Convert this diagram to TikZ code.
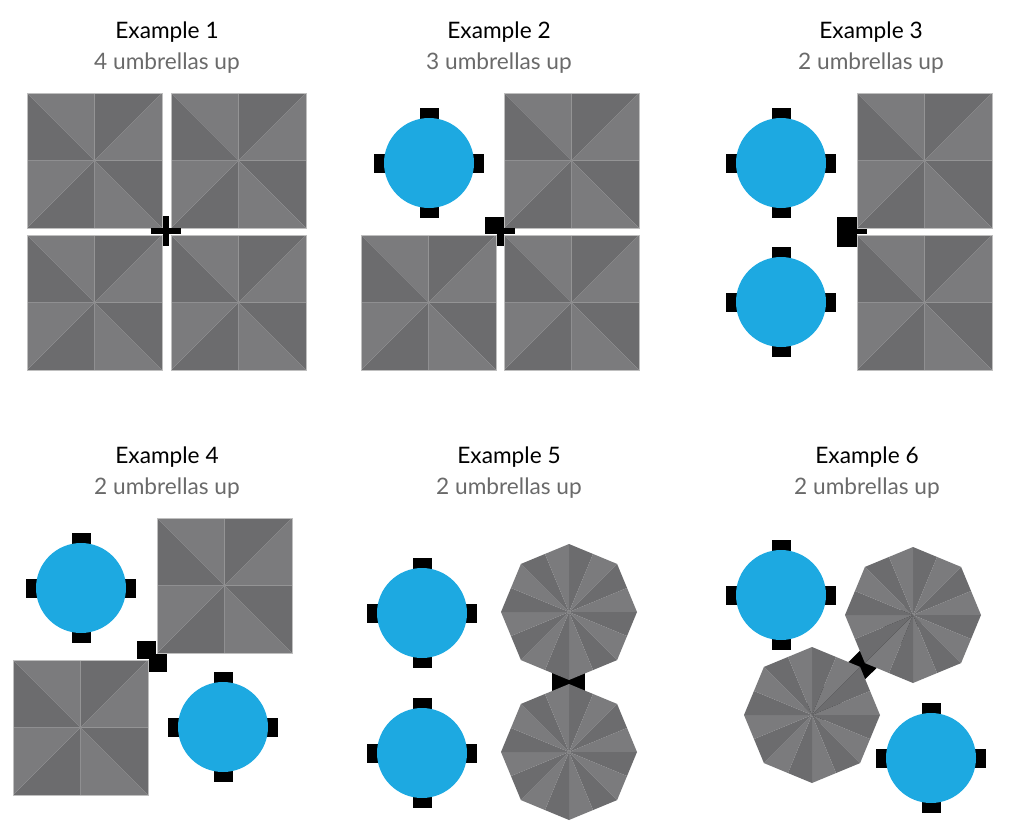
\documentclass[tikz,border=0pt]{standalone}
\usepackage{fontspec}
\setmainfont{Lato}
\definecolor{lg}{HTML}{7B7B7D}
\definecolor{dg}{HTML}{6C6C6E}
\definecolor{ub}{HTML}{1DA9E1}
\definecolor{sub}{HTML}{6A6A6A}
\newcommand{\usq}[2]{%
\begin{scope}[shift={(#1,#2)}]
\fill[lg] (67.5,67.5)--(0,0)--(67.5,0)--cycle;
\fill[dg] (67.5,67.5)--(67.5,0)--(135,0)--cycle;
\fill[lg] (67.5,67.5)--(135,0)--(135,67.5)--cycle;
\fill[dg] (67.5,67.5)--(135,67.5)--(135,135)--cycle;
\fill[lg] (67.5,67.5)--(135,135)--(67.5,135)--cycle;
\fill[dg] (67.5,67.5)--(67.5,135)--(0,135)--cycle;
\fill[lg] (67.5,67.5)--(0,135)--(0,67.5)--cycle;
\fill[dg] (67.5,67.5)--(0,67.5)--(0,0)--cycle;
\draw[gray!50,line width=0.5pt] (0,0) rectangle (135,135);
\end{scope}}
\newcommand{\uoct}[3]{%
\begin{scope}[shift={(#1,#2)}]
\foreach \k in {0,...,7}{
\pgfmathsetmacro\a{-90+45*\k}
\fill[dg] (0,0)--(\a:#3)--(\a+22.5:0.9239*#3)--cycle;
\fill[lg] (0,0)--(\a+22.5:0.9239*#3)--(\a+45:#3)--cycle;
}
\end{scope}}
\newcommand{\utable}[2]{%
\begin{scope}[shift={(#1,#2)}]
\fill[black] (-9.5,-55) rectangle (9.5,-38);
\fill[black] (-9.5,55) rectangle (9.5,38);
\fill[black] (-55,-9.5) rectangle (-38,9.5);
\fill[black] (55,-9.5) rectangle (38,9.5);
\fill[ub] (0,0) circle (45);
\end{scope}}
\tikzset{ttl/.style={font=\fontsize{17}{20}\selectfont,text=black,anchor=base},
 stl/.style={font=\fontsize{17}{20}\selectfont,text=sub,anchor=base}}
\begin{document}
\begin{tikzpicture}[x=0.75pt,y=-0.75pt]
\useasboundingbox (0,0) rectangle (1010,828);
% titles
\node[ttl] (t1) at (167,38) {Example 1};
\node[stl] (s1) at (167,69) {4 umbrellas up};
\node[ttl] (t2) at (499,38) {Example 2};
\node[stl] (s2) at (499,69) {3 umbrellas up};
\node[ttl] (t3) at (871,38) {Example 3};
\node[stl] (s3) at (871,69) {2 umbrellas up};
\node[ttl] (t4) at (167,463) {Example 4};
\node[stl] (s4) at (167,494) {2 umbrellas up};
\node[ttl] (t5) at (509,463) {Example 5};
\node[stl] (s5) at (509,494) {2 umbrellas up};
\node[ttl] (t6) at (867,463) {Example 6};
\node[stl] (s6) at (867,494) {2 umbrellas up};
% example 1
\usq{27}{93}\usq{171}{93}\usq{27}{235}\usq{171}{235}
\fill[black] (151,228) rectangle (181,234);
\fill[black] (163,216) rectangle (169,246);
% example 2
\utable{429}{163}
\usq{504}{93}\usq{361}{235}\usq{504}{235}
\fill[black] (485,217) rectangle (504,234);
\fill[black] (497,228) rectangle (515,234);
\fill[black] (497,228) rectangle (504,246);
% example 3
\utable{781}{163}\utable{781}{302}
\usq{857}{93}\usq{857}{235}
\fill[black] (837,217) rectangle (857,247);
\fill[black] (857,229) rectangle (867,234);
% example 4
\utable{81}{588}\utable{223}{727}
\usq{157}{518}\usq{13}{660}
\fill[black] (137,641) rectangle (156,659);
\fill[black] (149,654) rectangle (167,672);
% example 5
\utable{422}{613}\utable{422}{753}
\fill[black] (552,672) rectangle (585,694);
\uoct{569}{612}{68}\uoct{569}{752}{68}
% example 6
\utable{781}{595}\utable{931}{758}
\draw[black,line width=18pt] (812,715) -- (913,615);
\uoct{913}{615}{68}\uoct{812}{715}{68}
\end{tikzpicture}
\end{document}
